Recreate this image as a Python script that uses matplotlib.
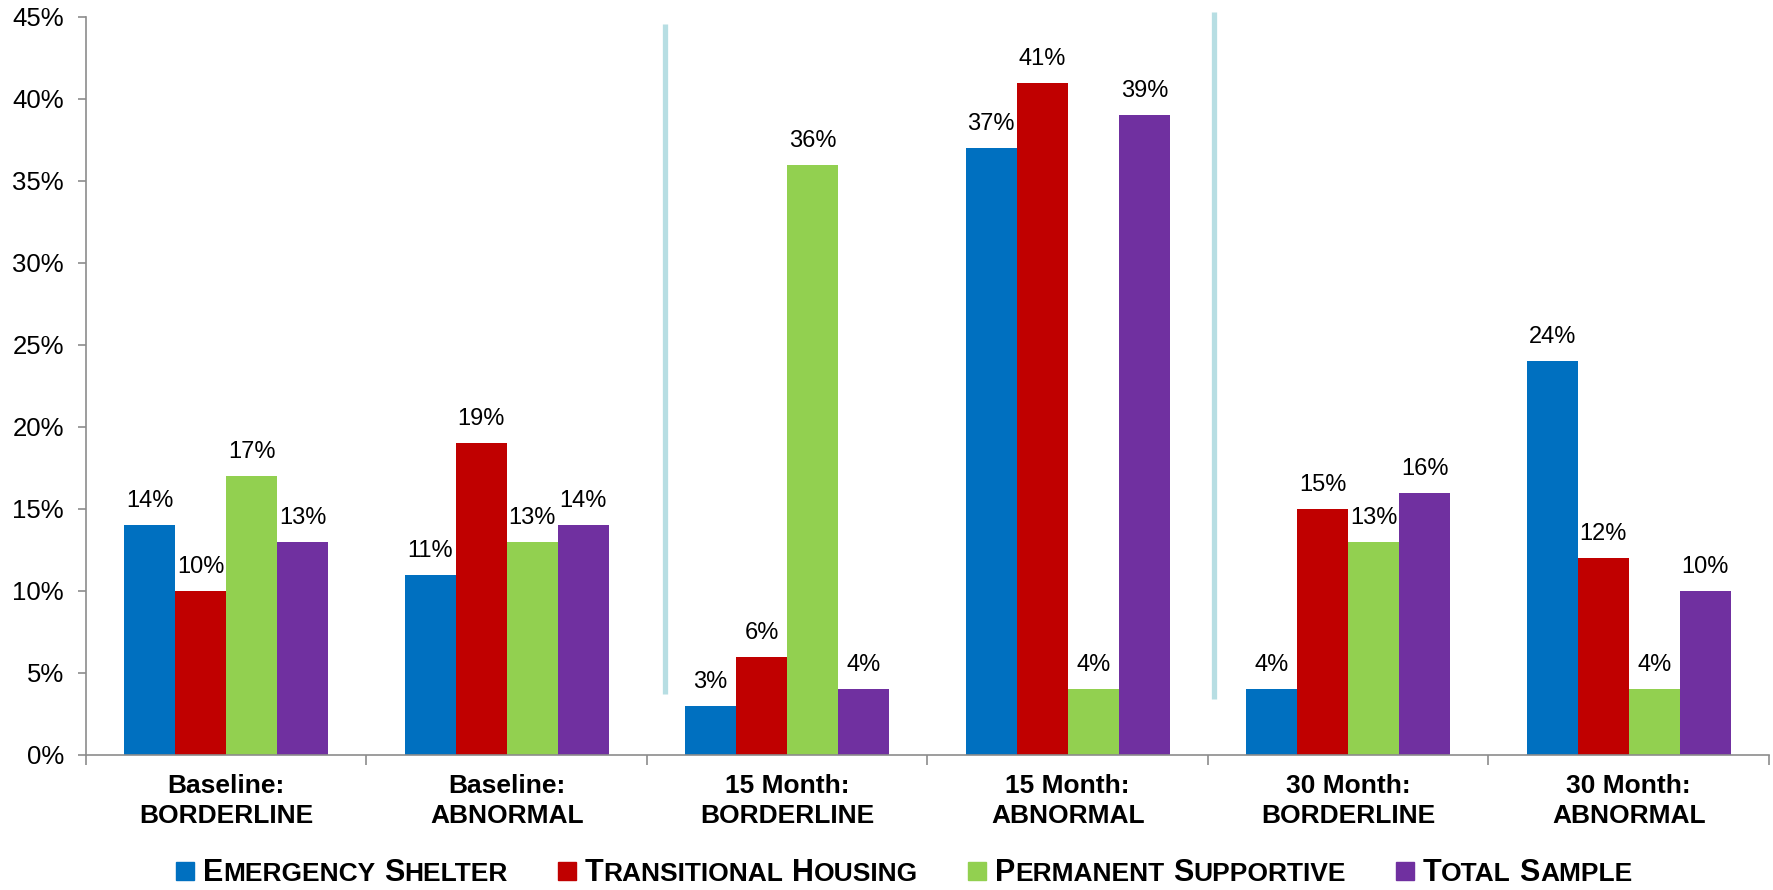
import matplotlib
matplotlib.use("Agg")
import matplotlib.pyplot as plt
import matplotlib.patches as mpatches
import numpy as np

plt.rcParams["font.family"] = ["Liberation Sans", "DejaVu Sans"]

# ── data ────────────────────────────────────────────────────────────────────
categories = [
    "Baseline:\nBORDERLINE", "Baseline:\nABNORMAL",
    "15 Month:\nBORDERLINE", "15 Month:\nABNORMAL",
    "30 Month:\nBORDERLINE", "30 Month:\nABNORMAL",
]
series_names = ["Emergency Shelter", "Transitional Housing",
                "Permanent Supportive", "Total Sample"]
emergency = [14, 11, 3, 37, 4, 24]
transitional = [10, 19, 6, 41, 15, 12]
permanent = [17, 13, 36, 4, 13, 4]
total = [13, 14, 4, 39, 16, 10]

# hand-drawn dividers between the time points: (x, y_bottom, y_top)
dividers = [(1.564, 3.7, 44.6), (3.521, 3.4, 45.3)]

COLORS = ["#0070C0", "#C00000", "#92D050", "#7030A0"]
GRID_GRAY = "#8C8C8C"

# ── figure ──────────────────────────────────────────────────────────────────
fig = plt.figure(figsize=(17.73, 8.9), dpi=100)
ax = fig.add_axes([0.0485, 0.1517, 0.9492, 0.8292])

x = np.arange(len(categories))
width = 0.182
all_series = [emergency, transitional, permanent, total]
for i, (vals, color) in enumerate(zip(all_series, COLORS)):
    offs = (i - 1.5) * width
    bars = ax.bar(x + offs, vals, width, color=color, linewidth=0)
    for b, v in zip(bars, vals):
        ax.annotate(f"{v}%", (b.get_x() + b.get_width() / 2, v),
                    xytext=(0, 13), textcoords="offset points",
                    ha="center", va="baseline", fontsize=17)

for dx, y0, y1 in dividers:
    ax.plot([dx, dx], [y0, y1], color="#B7DEE3", linewidth=3.8,
            solid_capstyle="butt", clip_on=False, zorder=3)

ax.set_xlim(-0.5, 5.5)
ax.set_ylim(0, 45)
ax.set_yticks(range(0, 46, 5))
ax.set_yticklabels([f"{v}%" for v in range(0, 46, 5)], fontsize=18.5)
ax.tick_params(axis="y", length=6, width=1.2, color=GRID_GRAY, pad=10)

ax.set_xticks(x)
ax.set_xticklabels(categories, fontsize=19, fontweight="bold", linespacing=1.3)
ax.set_xticks(np.arange(-0.5, 6.0, 1.0), minor=True)
ax.tick_params(axis="x", which="major", length=0, pad=14)
ax.tick_params(axis="x", which="minor", length=7, width=1.2, color=GRID_GRAY)

for side in ["top", "right"]:
    ax.spines[side].set_visible(False)
for side in ["left", "bottom"]:
    ax.spines[side].set_color(GRID_GRAY)
    ax.spines[side].set_linewidth(1.2)

# ── legend drawn by hand so the labels can be set in small caps ─────────────
renderer = fig.canvas.get_renderer()
fig_w = fig.get_figwidth() * fig.dpi
fig_h = fig.get_figheight() * fig.dpi
big, small = 22, 19
baseline_px = 890 - 881
cursor = 176.0
square = 18
for name, color in zip(series_names, COLORS):
    fig.patches.append(mpatches.Rectangle(
        (cursor / fig_w, (baseline_px + 1) / fig_h), square / fig_w, square / fig_h,
        transform=fig.transFigure, color=color, figure=fig))
    cursor += square + 9
    words = name.split(" ")
    for wi, word in enumerate(words):
        pieces = [(word[0].upper(), big), (word[1:].upper(), small)]
        if wi < len(words) - 1:
            pieces.append((" ", big))
        for piece, size in pieces:
            t = fig.text(cursor / fig_w, baseline_px / fig_h, piece,
                         fontsize=size, fontweight="bold",
                         ha="left", va="baseline")
            if piece == " ":
                cursor += size * 0.278 * fig.dpi / 72
            else:
                cursor += t.get_window_extent(renderer).width
    cursor += 50

fig.savefig("out.png", dpi=100)
